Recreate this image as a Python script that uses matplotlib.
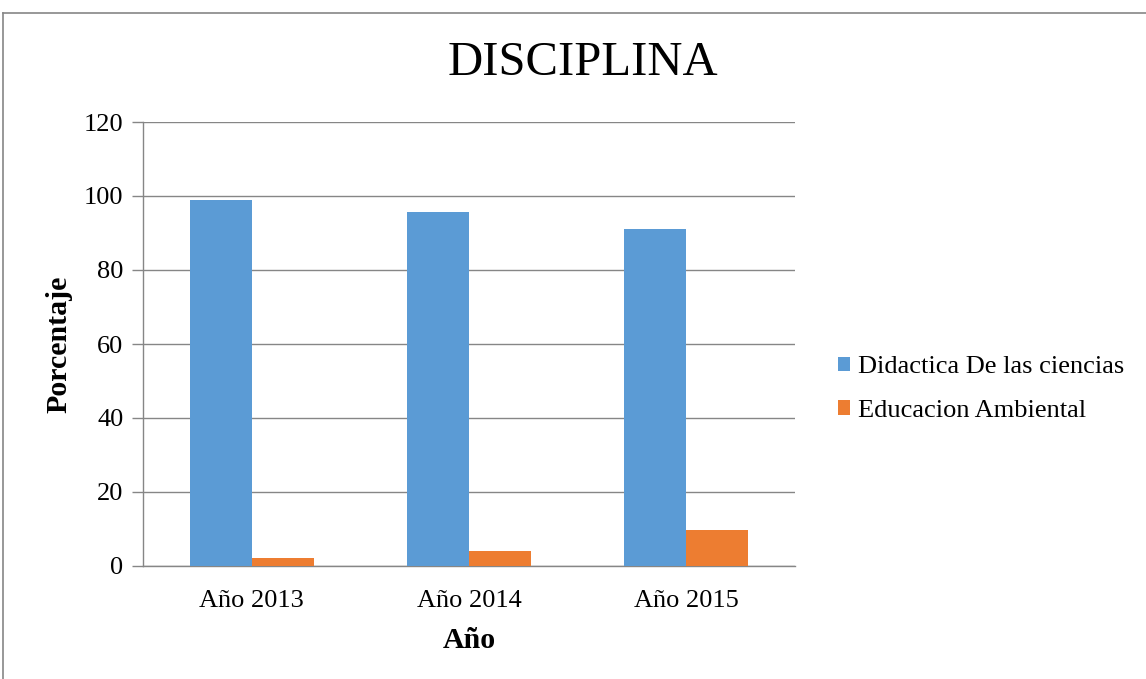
import matplotlib
matplotlib.use("Agg")
import matplotlib.pyplot as plt
import numpy as np
from matplotlib.lines import Line2D

categories = ["Año 2013", "Año 2014", "Año 2015"]
series_names = ["Didactica De las ciencias", "Educacion Ambiental"]
didactica = [98.8, 95.8, 91.1]
educacion = [2.1, 4.1, 9.7]
yticks = [0, 20, 40, 60, 80, 100, 120]

plt.rcParams['font.family'] = ['Liberation Serif', 'DejaVu Serif']

W, H = 1146, 679
fig = plt.figure(figsize=(W / 100, H / 100), dpi=100)
left, right, bottom, top = 143 / W, 795 / W, 1 - 566 / H, 1 - 122 / H
ax = fig.add_axes([left, bottom, right - left, top - bottom])

x = np.arange(len(categories))
bw = 1 / 3.5
blue = "#5B9BD5"
orange = "#ED7D31"
ax.bar(x - bw / 2, didactica, bw, color=blue, label=series_names[0], zorder=3)
ax.bar(x + bw / 2, educacion, bw, color=orange, label=series_names[1], zorder=3)

ax.set_xlim(-0.5, 2.5)
ax.set_ylim(0, 120)
ax.set_yticks(yticks)
ax.set_xticks(x)
ax.set_xticklabels(categories)
ax.tick_params(axis='x', length=0, labelsize=19, pad=17)
ax.tick_params(axis='y', length=8, width=1, color="#868686", labelsize=19, pad=6)
ax.yaxis.grid(True, color="#868686", linewidth=1, zorder=0)
for s in ["top", "right"]:
    ax.spines[s].set_visible(False)
for s in ["left", "bottom"]:
    ax.spines[s].set_color("#868686")
    ax.spines[s].set_linewidth(1)
ax.set_axisbelow(True)

ax.set_ylabel("Porcentaje", fontsize=21.5, fontweight="bold", labelpad=8)
ax.set_xlabel("Año", fontsize=21.5, fontweight="bold", labelpad=11)

fig.text(583 / W, 1 - 63 / H, "DISCIPLINA", ha="center", va="center", fontsize=35)

leg = fig.legend(handles=ax.get_legend_handles_labels()[0],
                 labels=series_names, loc="center left",
                 bbox_to_anchor=(814 / W, 1 - 389 / H), frameon=False,
                 fontsize=19, handlelength=0.48, handleheight=0.48,
                 handletextpad=0.28, labelspacing=0.8)

# outer frame (top and left only visible)
fig.add_artist(Line2D([3 / W, 1], [1 - 13 / H, 1 - 13 / H], color="#868686", lw=1.2))
fig.add_artist(Line2D([3 / W, 3 / W], [0, 1 - 13 / H], color="#868686", lw=1.2))

fig.savefig("out.png", dpi=100, facecolor="white")
